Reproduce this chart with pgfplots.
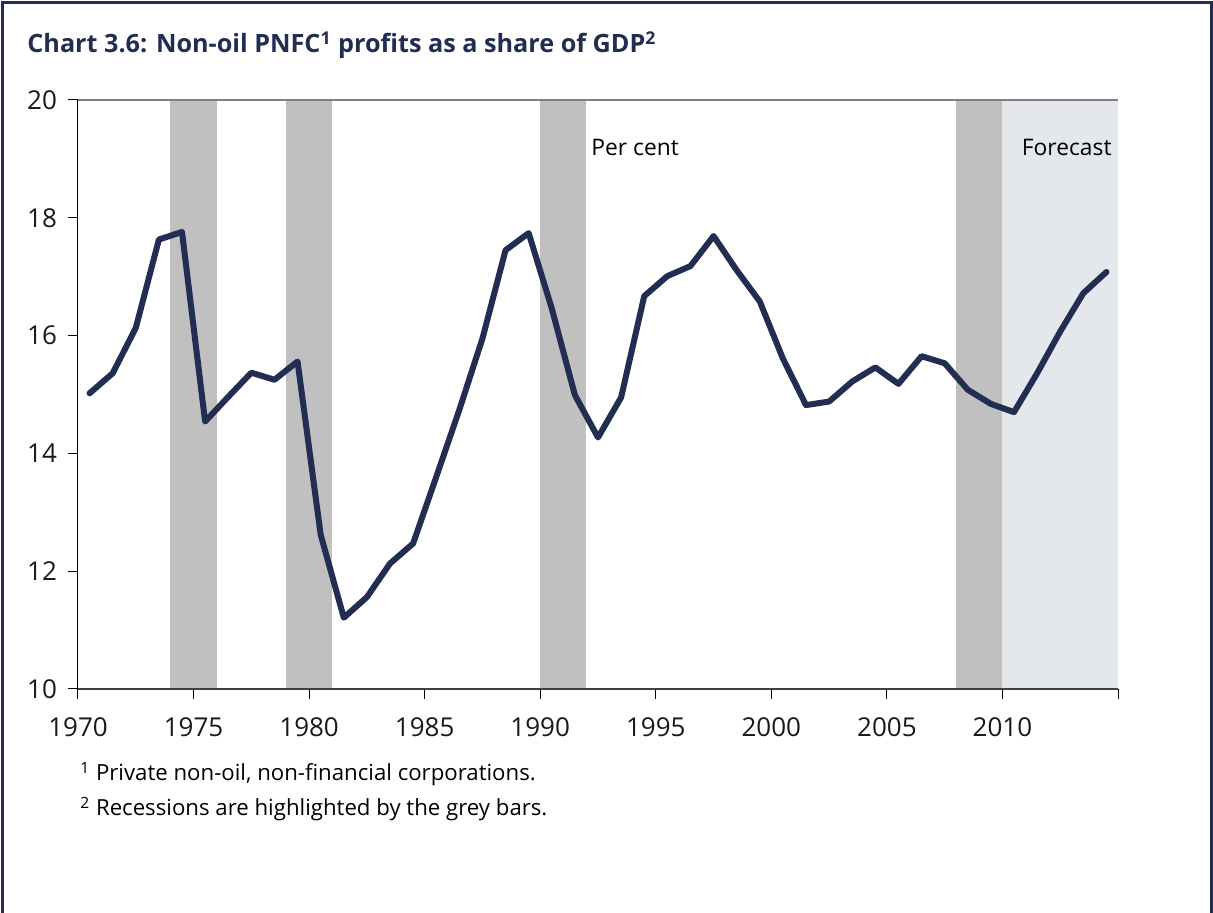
\documentclass[border=0pt]{standalone}
\usepackage{pgfplots}
\pgfplotsset{compat=1.18}
\usepackage{pgfplotstable}
\usepackage{fontspec}
\setmainfont{Open Sans}
\definecolor{navy}{RGB}{34,45,82}
\definecolor{recgrey}{RGB}{192,192,192}
\definecolor{fcast}{RGB}{228,232,236}
\pgfplotstableread{
year value
1970.5 15.02
1971.5 15.36
1972.5 16.13
1973.5 17.63
1974.5 17.76
1975.5 14.54
1976.5 14.96
1977.5 15.37
1978.5 15.25
1979.5 15.56
1980.5 12.62
1981.5 11.21
1982.5 11.56
1983.5 12.13
1984.5 12.47
1985.5 13.60
1986.5 14.74
1987.5 15.95
1988.5 17.45
1989.5 17.74
1990.5 16.46
1991.5 14.99
1992.5 14.27
1993.5 14.95
1994.5 16.67
1995.5 17.01
1996.5 17.18
1997.5 17.69
1998.5 17.11
1999.5 16.58
2000.5 15.61
2001.5 14.82
2002.5 14.88
2003.5 15.22
2004.5 15.46
2005.5 15.18
2006.5 15.65
2007.5 15.53
2008.5 15.08
2009.5 14.84
2010.5 14.70
2011.5 15.36
2012.5 16.07
2013.5 16.72
2014.5 17.08
}\profits
\begin{document}
\begin{tikzpicture}
\useasboundingbox (-39pt,-112pt) rectangle (567.5pt,344.5pt);
\begin{axis}[
  at={(0,0)}, anchor=south west,
  scale only axis, width=520pt, height=294.5pt,
  xmin=1970, xmax=2015, ymin=10, ymax=20,
  axis x line*=bottom, axis y line*=left,
  axis line style={-},
  x axis line style={draw=black!75, line width=0.8pt},
  y axis line style={draw=black, line width=0.5pt},
  xtick={1970,1975,...,2015},
  xticklabels={1970,1975,1980,1985,1990,1995,2000,2005,2010,},
  ytick={10,12,...,20},
  tick align=outside,
  major tick length=5pt,
  tick style={black, line width=0.5pt},
  /pgf/number format/assume math mode=true,
  tick label style={font=\fontsize{13}{15}\selectfont, text=black!90},
  xticklabel style={yshift=-6pt},
  yticklabel style={xshift=-2pt},
  axis on top,
  clip=false,
]
\addplot[fill=fcast, draw=none] coordinates {(2010,10) (2010,20) (2015,20) (2015,10)} -- cycle;
\addplot[fill=recgrey, draw=none] coordinates {(1974,10) (1974,20) (1976,20) (1976,10)} -- cycle;
\addplot[fill=recgrey, draw=none] coordinates {(1979,10) (1979,20) (1981,20) (1981,10)} -- cycle;
\addplot[fill=recgrey, draw=none] coordinates {(1990,10) (1990,20) (1992,20) (1992,10)} -- cycle;
\addplot[fill=recgrey, draw=none] coordinates {(2008,10) (2008,20) (2010,20) (2010,10)} -- cycle;
\addplot[draw=gray, line width=0.8pt] coordinates {(1970,20) (2015,20)};
\addplot[navy, line width=3pt, line join=round, line cap=round] table[x=year, y=value] {\profits};
\node[anchor=west, inner sep=0pt, font=\fontsize{11.4}{14}\selectfont] at (axis cs:1992.2,19.2) {Per cent};
\node[anchor=east, inner sep=0pt, font=\fontsize{11.4}{14}\selectfont] at (axis cs:2014.74,19.2) {Forecast};
\end{axis}
\draw[navy, line width=1.5pt] (-37.5pt,-112pt) -- (-37.5pt,343pt) -- (566.5pt,343pt) -- (566.5pt,-112pt);
\node[anchor=base west, text=navy, font=\fontsize{12.6}{15}\selectfont\bfseries, inner sep=0pt] at (-25.5pt,318pt) {Chart 3.6: Non-oil PNFC\textsuperscript{1} profits as a share of GDP\textsuperscript{2}};
\node[anchor=base west, font=\fontsize{11.1}{13}\selectfont, inner sep=0pt] at (1pt,-46pt) {\textsuperscript{1} Private non-oil, non-financial corporations.};
\node[anchor=base west, font=\fontsize{11.1}{13}\selectfont, inner sep=0pt] at (1pt,-63.5pt) {\textsuperscript{2} Recessions are highlighted by the grey bars.};
\end{tikzpicture}
\end{document}
